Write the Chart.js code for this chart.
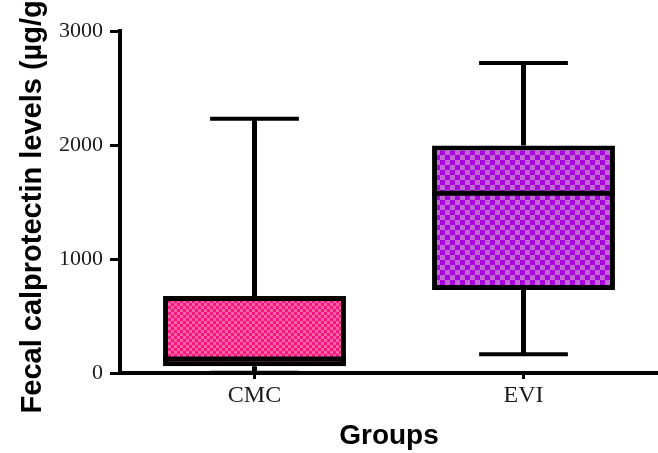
<!DOCTYPE html>
<html>
<head>
<meta charset="utf-8">
<script src="https://cdn.jsdelivr.net/npm/chart.js@4.4.1/dist/chart.umd.min.js"></script>
<style>
  html, body { margin: 0; padding: 0; background: #fff; }
  #wrap { width: 658px; height: 453px; }
</style>
</head>
<body>
<div id="wrap"><canvas id="c" width="658" height="453"></canvas></div>
<script>
// Box-and-whisker summary per group (µg/g)
const groups = ['CMC', 'EVI'];
const minVals = [3, 165];
const q1Vals = [60, 728];
const medianVals = [122, 1576];
const q3Vals = [675, 1995];
const maxVals = [2230, 2720];
const yTicks = [0, 1000, 2000, 3000];

// Two-tone checkerboard fills for the boxes
function checker(dark, light, cell) {
  const off = document.createElement('canvas');
  off.width = cell * 2; off.height = cell * 2;
  const g = off.getContext('2d');
  g.fillStyle = dark; g.fillRect(0, 0, cell * 2, cell * 2);
  g.fillStyle = light;
  g.fillRect(cell, 0, cell, cell);
  g.fillRect(0, cell, cell, cell);
  return g.createPattern(off, 'repeat');
}
const ctx = document.getElementById('c').getContext('2d');
const fills = [checker('#f5177f', '#fb62a6', 3), checker('#a900e0', '#c266d6', 5)];

// Whiskers (behind the box) and median lines (on top)
const boxPlotLines = {
  id: 'boxPlotLines',
  beforeDatasetsDraw(chart) {
    const { ctx, scales: { x, y } } = chart;
    const catW = x.getPixelForValue(1) - x.getPixelForValue(0);
    ctx.save();
    ctx.strokeStyle = '#000';
    groups.forEach((g, i) => {
      const cx = x.getPixelForValue(i);
      ctx.lineWidth = 5;
      ctx.beginPath();
      ctx.moveTo(cx, y.getPixelForValue(maxVals[i]));
      ctx.lineTo(cx, y.getPixelForValue(q3Vals[i]));
      ctx.moveTo(cx, y.getPixelForValue(q1Vals[i]));
      ctx.lineTo(cx, y.getPixelForValue(minVals[i]));
      ctx.stroke();
      ctx.lineWidth = 4;
      const half = catW * 0.165;
      [maxVals[i], minVals[i]].forEach(v => {
        const py = y.getPixelForValue(v);
        ctx.beginPath();
        ctx.moveTo(cx - half, py);
        ctx.lineTo(cx + half, py);
        ctx.stroke();
      });
    });
    ctx.restore();
  },
  afterDatasetsDraw(chart) {
    const { ctx, scales: { y } } = chart;
    const meta = chart.getDatasetMeta(0);
    ctx.save();
    ctx.strokeStyle = '#000';
    ctx.lineWidth = 5;
    meta.data.forEach((bar, i) => {
      const py = y.getPixelForValue(medianVals[i]);
      ctx.beginPath();
      ctx.moveTo(bar.x - bar.width / 2, py);
      ctx.lineTo(bar.x + bar.width / 2, py);
      ctx.stroke();
    });
    ctx.restore();
  }
};

new Chart(ctx, {
  type: 'bar',
  data: {
    labels: groups,
    datasets: [{
      data: groups.map((g, i) => [q1Vals[i], q3Vals[i]]),
      backgroundColor: fills,
      borderColor: '#000',
      borderWidth: 5,
      borderSkipped: false,
      categoryPercentage: 1,
      barPercentage: 0.68
    }]
  },
  options: {
    responsive: false,
    animation: false,
    events: [],
    layout: { padding: { top: 31, right: 0, bottom: 0, left: 0 } },
    plugins: { legend: { display: false }, tooltip: { enabled: false } },
    scales: {
      x: {
        offset: true,
        grid: { display: true, drawOnChartArea: false, offset: false, tickLength: 6, lineWidth: 3, color: '#000' },
        border: { display: true, width: 4, color: '#000' },
        ticks: { color: '#1a1a1a', padding: 2, font: { family: '"Liberation Serif", "Times New Roman", serif', size: 24 } },
        title: { display: true, text: 'Groups', color: '#000', padding: { top: 0, bottom: 0 },
                 font: { family: '"Liberation Sans", Arial, sans-serif', size: 28, weight: 'bold' } },
        afterFit(scale) { scale.height = 80; }
      },
      y: {
        min: 0, max: 3000,
        afterBuildTicks(scale) { scale.ticks = yTicks.map(v => ({ value: v })); },
        grid: { display: true, drawOnChartArea: false, tickLength: 10, lineWidth: 3, color: '#000' },
        border: { display: true, width: 4, color: '#000' },
        ticks: { color: '#1a1a1a', padding: 7, callback: v => String(v),
                 font: { family: '"Liberation Serif", "Times New Roman", serif', size: 22 } },
        title: { display: true, text: 'Fecal calprotectin levels (µg/g)', color: '#000', padding: { top: 16, bottom: 0 },
                 font: { family: '"Liberation Sans", Arial, sans-serif', size: 29, weight: 'bold' } },
        afterFit(scale) { scale.width = 120; }
      }
    }
  },
  plugins: [boxPlotLines]
});
</script>
</body>
</html>
